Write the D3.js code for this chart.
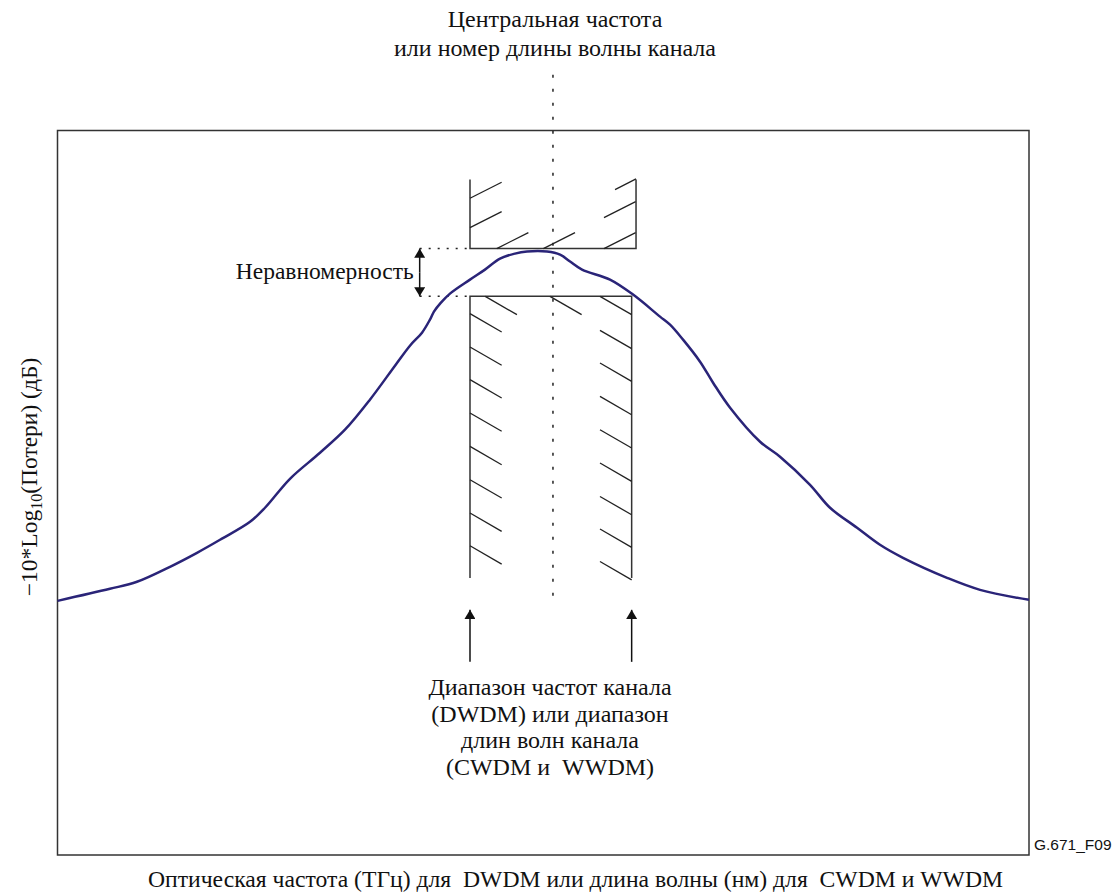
<!DOCTYPE html>
<html><head><meta charset="utf-8">
<script src="https://cdn.jsdelivr.net/npm/d3@7"></script>
<style>
html,body{margin:0;padding:0;background:#fff;}
svg text{font-family:"Liberation Serif","Times New Roman",serif;fill:#111;white-space:pre;}
</style></head>
<body>
<svg id="chart" width="1115" height="894"></svg>
<script>
// ---- Data (x: relative optical frequency, 0..100; y: relative level, 0..100) ----
const curveX = [0,5.40,8.18,11.58,14.36,16.73,19.82,21.36,23.93,27.02,29.59,32.16,34.74,36.28,37.52,38.34,38.75,39.47,40.40,42.46,44.00,45.55,47.09,48.33,50.39,51.73,52.76,53.99,56.87,59.24,62.02,63.05,64.39,66.14,67.48,69.23,72.32,74.37,77.46,79.52,82.30,84.66,87.03,91.56,94.96,100];
const curveY = [35.08,36.74,37.71,39.78,41.71,43.51,45.99,47.93,51.93,55.52,58.70,62.85,67.54,70.30,72.10,73.90,75.00,76.24,77.49,79.42,80.80,82.32,83.01,83.29,83.29,82.87,81.91,80.80,79.42,77.35,74.31,73.20,71.13,68.09,65.19,61.74,57.04,54.97,51.10,47.93,45.17,42.82,41.02,38.26,36.60,35.22];

// mask boxes: [xLeft, xRight, yBottom, yTop]
const upperMask = [42.46, 59.55, 83.70, 93.23];
const lowerMask = [42.46, 59.10, 38.22, 77.11];
const centerX = 51.0, centerYTop = 107.7, centerYBottom = 35.64;

// hatch segment start points [x, y]
const lowerHatch = [[44.03,77.11],[50.69,77.11],[55.84,77.11],
  [42.46,74.72],[42.46,70.12],[42.46,65.61],[42.46,61.01],[42.46,56.40],[42.46,51.80],[42.46,47.20],[42.46,42.68],
  [55.84,72.42],[55.84,67.91],[55.84,63.30],[55.84,58.70],[55.84,54.10],[55.84,49.49],[55.84,44.99],[55.84,40.51]];
const upperHatch = [[42.46,90.65],[42.46,86.59],[45.21,83.70],[50.01,83.70],[56.25,83.70],[56.25,87.98],[57.39,91.85]];
const hatchLen = [3.26, 2.53];
const upperHatchLen = [3.26, 2.21];

const rippleX = [37.28, 42.46];
const channelArrowsX = [42.46, 59.10];
const channelArrowY = [26.66, 33.84];

const titleLines = ["Центральная частота", "или номер длины волны канала"];
const channelLines = ["Диапазон частот канала", "(DWDM) или диапазон", "длин волн канала", "(CWDM и  WWDM)"];
const rippleLabel = "Неравномерность";
const xLabel = "Оптическая частота (ТГц) для  DWDM или длина волны (нм) для  CWDM и WWDM";
const figId = "G.671_F09";

(function(){
const svg = d3.select("#chart");
const L = 57.5, R = 1029, T = 130.5, B = 855;
const x = d3.scaleLinear().domain([0,100]).range([L,R]);
const y = d3.scaleLinear().domain([0,100]).range([B,T]);

const defs = svg.append("defs");
defs.append("marker").attr("id","ah").attr("viewBox","0 0 10 12").attr("refX",10).attr("refY",6)
  .attr("markerWidth",12).attr("markerHeight",11).attr("markerUnits","userSpaceOnUse").attr("orient","auto")
  .append("path").attr("d","M0,0 L10,6 L0,12 Z").attr("fill","#111");

// frame
svg.append("rect").attr("x",L).attr("y",T).attr("width",R-L).attr("height",B-T)
  .attr("fill","none").attr("stroke","#333").attr("stroke-width",1.5);

// center dotted line
svg.append("line").attr("x1",x(centerX)).attr("x2",x(centerX)).attr("y1",y(centerYTop)).attr("y2",y(centerYBottom))
  .attr("stroke","#222").attr("stroke-width",1.5).attr("stroke-dasharray","3,11");

// masks
const maskG = svg.append("g").attr("stroke","#333").attr("stroke-width",1.5).attr("fill","none");
maskG.append("path").attr("d",
  `M${x(upperMask[0])},${y(upperMask[3])} L${x(upperMask[0])},${y(upperMask[2])} L${x(upperMask[1])},${y(upperMask[2])} L${x(upperMask[1])},${y(upperMask[3])}`);
maskG.append("path").attr("d",
  `M${x(lowerMask[0])},${y(lowerMask[2])} L${x(lowerMask[0])},${y(lowerMask[3])} L${x(lowerMask[1])},${y(lowerMask[3])} L${x(lowerMask[1])},${y(lowerMask[2])}`);

const hatchG = svg.append("g").attr("stroke","#222").attr("stroke-width",1.3);
hatchG.selectAll("line.lh").data(lowerHatch).join("line").attr("class","lh")
  .attr("x1",d=>x(d[0])).attr("y1",d=>y(d[1]))
  .attr("x2",d=>x(Math.min(d[0]+hatchLen[0], lowerMask[1]))).attr("y2",d=>y(d[1]-hatchLen[1]*Math.min(1,(lowerMask[1]-d[0])/hatchLen[0])));
hatchG.selectAll("line.uh").data(upperHatch).join("line").attr("class","uh")
  .attr("x1",d=>x(d[0])).attr("y1",d=>y(d[1]))
  .attr("x2",d=>x(Math.min(d[0]+upperHatchLen[0], upperMask[1]))).attr("y2",d=>y(d[1]+upperHatchLen[1]*Math.min(1,(upperMask[1]-d[0])/upperHatchLen[0])));

// ripple dotted lines
svg.selectAll("line.rip").data([upperMask[2], lowerMask[3]]).join("line").attr("class","rip")
  .attr("x1",x(rippleX[0])).attr("x2",x(rippleX[1])).attr("y1",d=>y(d)).attr("y2",d=>y(d))
  .attr("stroke","#222").attr("stroke-width",1.5).attr("stroke-dasharray","2,7");
const ymid = (upperMask[2]+lowerMask[3])/2;
[upperMask[2], lowerMask[3]].forEach(t=>{
  svg.append("line").attr("x1",x(rippleX[0])).attr("x2",x(rippleX[0])).attr("y1",y(ymid)).attr("y2",y(t))
    .attr("stroke","#111").attr("stroke-width",1.5).attr("marker-end","url(#ah)");
});
svg.append("text").attr("x",x(rippleX[0])-6).attr("y",y(ymid)+7).attr("text-anchor","end")
  .attr("font-size",23.5).text(rippleLabel);

// curve
const pts = curveX.map((d,i)=>[d,curveY[i]]);
svg.append("path").datum(pts)
  .attr("d",d3.line().x(d=>x(d[0])).y(d=>y(d[1])).curve(d3.curveCatmullRom.alpha(0.5)))
  .attr("fill","none").attr("stroke","#2a2478").attr("stroke-width",2.5);

// channel arrows
svg.selectAll("line.ch").data(channelArrowsX).join("line").attr("class","ch")
  .attr("x1",d=>x(d)).attr("x2",d=>x(d)).attr("y1",y(channelArrowY[0])).attr("y2",y(channelArrowY[1]))
  .attr("stroke","#111").attr("stroke-width",1.5).attr("marker-end","url(#ah)");

// texts
svg.selectAll("text.title").data(titleLines).join("text").attr("class","title")
  .attr("x",555).attr("y",(d,i)=>27+i*29).attr("text-anchor","middle").attr("font-size",24).text(d=>d);
svg.selectAll("text.chl").data(channelLines).join("text").attr("class","chl")
  .attr("x",550).attr("y",(d,i)=>695+i*26.5).attr("text-anchor","middle").attr("font-size",24).text(d=>d);

const yl = svg.append("text").attr("transform","translate(37,477) rotate(-90)").attr("text-anchor","middle").attr("font-size",23.5);
yl.append("tspan").text("−10*Log");
yl.append("tspan").attr("font-size",16).attr("dy",5).text("10");
yl.append("tspan").attr("dy",-5).text("(Потери) (дБ)");

svg.append("text").attr("x",148).attr("y",887).attr("font-size",23)
  .attr("textLength",855).attr("lengthAdjust","spacingAndGlyphs").text(xLabel);

svg.append("text").attr("x",1034).attr("y",850).attr("font-size",15.5)
  .style("font-family","'Liberation Sans',Arial,sans-serif").text(figId);
})();
</script>
</body></html>
